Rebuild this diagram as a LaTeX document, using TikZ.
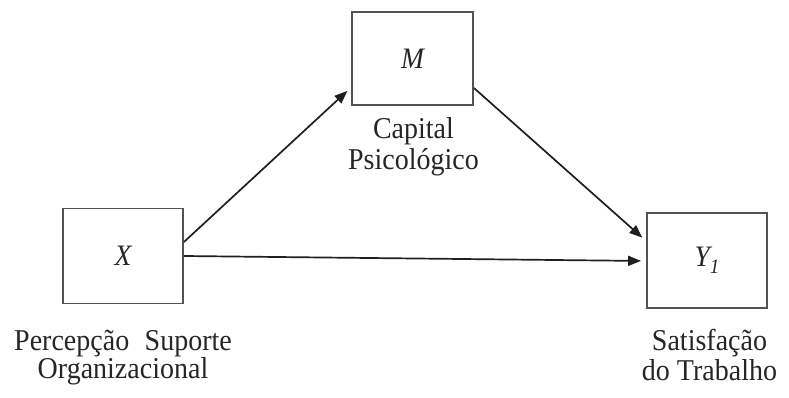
\documentclass[tikz,border=0pt]{standalone}
\usepackage{fontspec}
\setmainfont{Liberation Serif}
\usetikzlibrary{arrows.meta}
\newcommand{\tallt}[1]{\scalebox{1}[1.08]{#1}}
\begin{document}
\begin{tikzpicture}[x=1pt,y=1pt,
  varbox/.style={draw=black!68, line width=1.9pt, minimum width=120pt, minimum height=95pt, inner sep=0pt,
    font=\fontsize{27.5}{28}\selectfont\itshape, text=black!85},
  lbl/.style={font=\fontsize{28}{27}\selectfont, text=black!85, anchor=base, inner sep=0pt, align=center},
  conn/.style={draw=black!88, line width=1.7pt, -{Triangle[length=13pt,width=10pt]}}]
\useasboundingbox (0,0) rectangle (789,398);
\node[varbox] (X) at (123,142) {\tallt{X}};
\node[varbox, minimum width=121pt, minimum height=93pt] (M) at (412.5,339.5) {\tallt{M}};
\node[varbox] (Y) at (707,137.5) {\tallt{Y\raisebox{-6pt}{\fontsize{19}{19}\selectfont 1}}};
\node[lbl] (xl) at (123,19) {\tallt{Percepção\hspace{0.3em} Suporte}\\[0pt]\tallt{Organizacional}};
\node[lbl] (ml) at (413.5,228) {\tallt{Capital}\\[3pt]\tallt{Psicológico}};
\node[lbl] (yl) at (709.5,17) {\tallt{Satisfação}\\[2pt]\tallt{do Trabalho}};
\draw[conn, shorten >=5pt] ([yshift=14pt]X.east) -- ([yshift=-29pt]M.west);
\draw[conn, shorten >=5pt] ([yshift=-29.5pt]M.east) -- ([yshift=19.5pt]Y.west);
\draw[conn, shorten >=5pt] (X.east) -- ([yshift=-0.5pt]Y.west);
\end{tikzpicture}
\end{document}
